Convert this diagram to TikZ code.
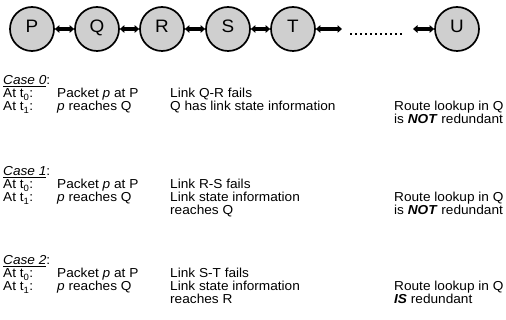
\documentclass[tikz,border=0pt]{standalone}
\usepackage{fontspec}
\setmainfont[FakeStretch=1.05]{Liberation Sans}
\usetikzlibrary{arrows.meta}

\tikzset{
  router/.style={circle, draw, line width=1.7pt, fill=gray!38, minimum size=44pt,
    inner sep=0pt, text height=0.72em, text depth=0pt,
    font=\fontsize{18}{21}\selectfont},
  link/.style={{Triangle[length=4.5pt,width=7.5pt]}-{Triangle[length=4.5pt,width=7.5pt]},
    line width=3.2pt},
  dots/.style={line width=1.7pt, dash pattern=on 1.7pt off 3.3pt},
  txt/.style={anchor=base west, inner sep=0pt, font=\fontsize{13}{15}\selectfont},
}

\begin{document}
\begin{tikzpicture}[x=1pt, y=-1pt]
    \useasboundingbox (0,0) rectangle (506,320);

    % Routers
    \node[router] (P) at (32,29) {P};
    \node[router] (Q) at (97,29) {Q};
    \node[router] (R) at (162,29) {R};
    \node[router] (S) at (228,29) {S};
    \node[router] (T) at (293,29) {T};
    \node[router] (U) at (457,29) {U};

    % Links
    \draw[link] (P) -- (Q);
    \draw[link] (Q) -- (R);
    \draw[link] (R) -- (S);
    \draw[link] (S) -- (T);
    \coordinate (tend) at (342,29);
    \coordinate (ubeg) at (413,29);
    \draw[link] (T) -- (tend);
    \draw[link] (ubeg) -- (U);
    \coordinate (d1) at (350,34);
    \coordinate (d2) at (402,34);
    \draw[dots] (d1) -- (d2);

    % Rows common to all cases
    \foreach \n/\y in {0/85, 1/176, 2/265} {
        \node[txt] (case\n) at (3,\y) {\underline{\textit{Case \n}}:};
        \node[txt] (at0\n) at (3,\y+13) {At t\textsubscript{0}:};
        \node[txt] (at1\n) at (3,\y+26) {At t\textsubscript{1}:};
        \node[txt] (pkt\n) at (57,\y+13) {Packet \textit{p} at P};
        \node[txt] (rch\n) at (57,\y+26) {\textit{p} reaches Q};
        \node[txt] (look\n) at (394,\y+26) {Route lookup in Q};
    }

    % Case 0
    \node[txt] (fail0) at (170,98) {Link Q-R fails};
    \node[txt] (info0) at (170,111) {Q has link state information};
    \node[txt] (red0) at (394,124) {is \textbf{\textit{NOT}} redundant};

    % Case 1
    \node[txt] (fail1) at (170,189) {Link R-S fails};
    \node[txt] (info1) at (170,202) {Link state information};
    \node[txt] (reach1) at (170,215) {reaches Q};
    \node[txt] (red1) at (394,215) {is \textbf{\textit{NOT}} redundant};

    % Case 2
    \node[txt] (fail2) at (170,278) {Link S-T fails};
    \node[txt] (info2) at (170,291) {Link state information};
    \node[txt] (reach2) at (170,304) {reaches R};
    \node[txt] (red2) at (394,304) {\textbf{\textit{IS}} redundant};
\end{tikzpicture}
\end{document}
